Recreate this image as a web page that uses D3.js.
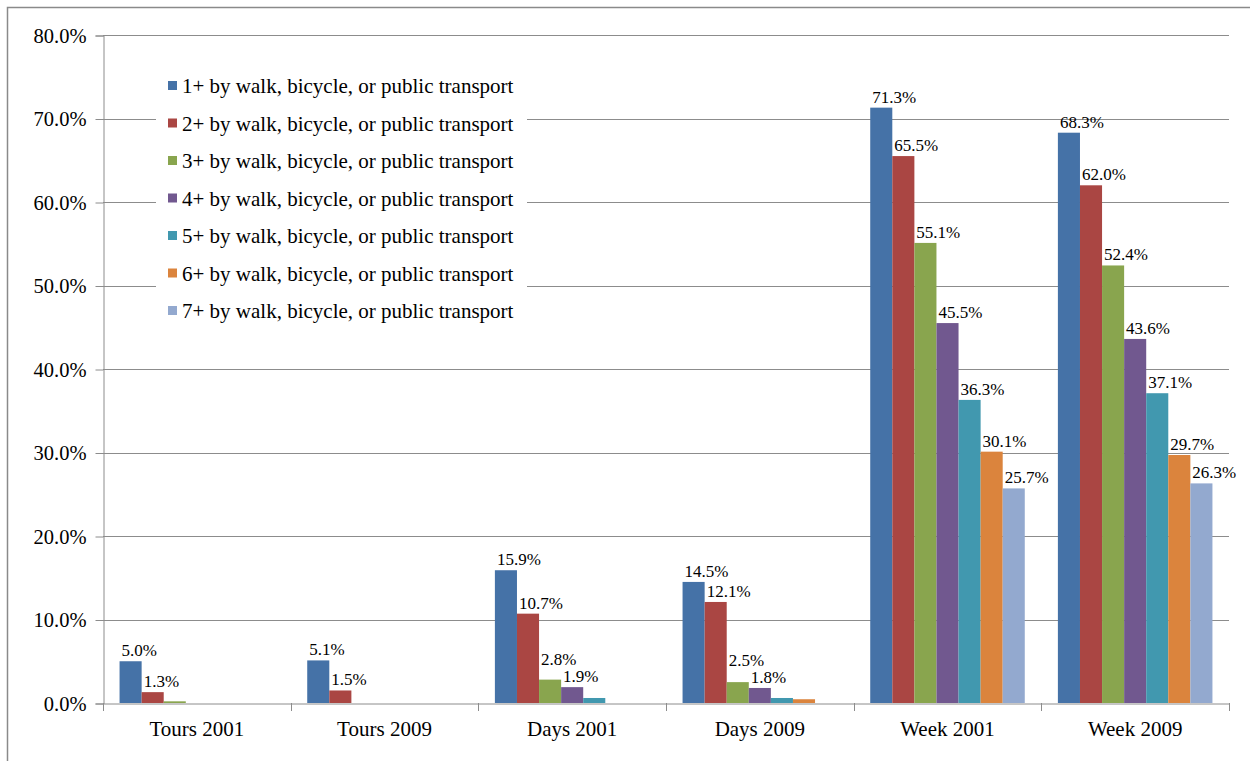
<!DOCTYPE html>
<html>
<head>
<meta charset="utf-8">
<script src="https://cdn.jsdelivr.net/npm/d3@7"></script>
<style>
html,body{margin:0;padding:0;background:#fff;}
svg{display:block;}
text{font-family:"Liberation Serif","Times New Roman",serif;fill:#000;}
</style>
</head>
<body>
<svg id="chart" width="1250" height="761"></svg>
<script>
const categories = ["Tours 2001","Tours 2009","Days 2001","Days 2009","Week 2001","Week 2009"];
const seriesNames = [
  "1+ by walk, bicycle, or public transport",
  "2+ by walk, bicycle, or public transport",
  "3+ by walk, bicycle, or public transport",
  "4+ by walk, bicycle, or public transport",
  "5+ by walk, bicycle, or public transport",
  "6+ by walk, bicycle, or public transport",
  "7+ by walk, bicycle, or public transport"
];
const s1 = [5.0, 5.1, 15.9, 14.5, 71.3, 68.3];
const s2 = [1.3, 1.5, 10.7, 12.1, 65.5, 62.0];
const s3 = [0.2, 0.0, 2.8, 2.5, 55.1, 52.4];
const s4 = [0.0, 0.0, 1.9, 1.8, 45.5, 43.6];
const s5 = [0.0, 0.0, 0.6, 0.6, 36.3, 37.1];
const s6 = [0.0, 0.0, 0.0, 0.45, 30.1, 29.7];
const s7 = [0.0, 0.0, 0.0, 0.0, 25.7, 26.3];
const seriesValues = [s1, s2, s3, s4, s5, s6, s7];
const colors = ["#4572A7","#AA4643","#89A54E","#71588F","#4198AF","#DB843D","#93A9CF"];
const yTicks = [0,10,20,30,40,50,60,70,80];

const svg = d3.select("#chart");
const L = 103, R = 1229, T = 35, B = 703;
const FONT = "Liberation Serif, Times New Roman, serif";

// outer frame
svg.append("rect").attr("x",7.5).attr("y",7.5).attr("width",1260).attr("height",780)
  .attr("fill","none").attr("stroke","#8a8a8a").attr("stroke-width",1.5);

const x0 = d3.scaleBand().domain(categories).range([L,R]).padding(0);
const gw = x0.bandwidth();
const gapRatio = 1.5;
const bw = gw/(seriesNames.length+gapRatio);
const x1 = d3.scaleBand().domain(d3.range(seriesNames.length))
  .range([bw*gapRatio/2, bw*gapRatio/2 + bw*seriesNames.length]).padding(0);
const y = d3.scaleLinear().domain([0,80]).range([B,T]);

// gridlines
svg.append("g").selectAll("line").data(yTicks.filter(d=>d>0)).join("line")
  .attr("x1",L).attr("x2",R).attr("y1",d=>Math.round(y(d))+0.5).attr("y2",d=>Math.round(y(d))+0.5)
  .attr("stroke","#8c8c8c").attr("stroke-width",1);

// y axis
const yAxis = d3.axisLeft(y).tickValues(yTicks).tickFormat(d=>d3.format(".1f")(d)+"%").tickSizeOuter(0).tickSize(8).tickPadding(9);
const gy = svg.append("g").attr("transform",`translate(${L+0.5},0.5)`).call(yAxis);
gy.select(".domain").attr("stroke","#8c8c8c");
gy.selectAll(".tick line").attr("stroke","#8c8c8c");
gy.selectAll(".tick text").attr("font-size","20.5px").attr("font-family",FONT).attr("fill","#000");

// bars
const groups = svg.append("g").selectAll("g").data(categories).join("g")
  .attr("transform",d=>`translate(${x0(d)},0)`);
groups.selectAll("rect").data((c,ci)=>seriesValues.map((s,si)=>({si,v:s[ci]}))).join("rect")
  .attr("x",d=>x1(d.si)).attr("width",x1.bandwidth())
  .attr("y",d=>y(d.v)).attr("height",d=>B-y(d.v))
  .attr("fill",d=>colors[d.si]);

// labels with simple collision avoidance (push left neighbour up)
const LABEL_GAP = 17;
function labelData(ci){
  const arr = seriesValues.map((s,si)=>({si,v:s[ci]})).filter(d=>d.v>=1);
  arr.forEach(d=>{ d.ly = y(d.v)-5; });
  for(let i=arr.length-2;i>=0;i--){
    const next = arr[i+1];
    if(next.si===arr[i].si+1 && arr[i].ly > next.ly - LABEL_GAP){
      arr[i].ly = next.ly - LABEL_GAP;
    }
  }
  return arr;
}
groups.selectAll("text").data((c,ci)=>labelData(ci)).join("text")
  .attr("x",d=>x1(d.si)+2).attr("y",d=>d.ly)
  .attr("font-size","17px").text(d=>d3.format(".1f")(d.v)+"%");

// x axis
const xAxis = d3.axisBottom(x0).tickSize(0).tickPadding(18).tickSizeOuter(0);
const gx = svg.append("g").attr("transform",`translate(0,${B+0.5})`).call(xAxis);
gx.select(".domain").attr("stroke","#8c8c8c");
gx.selectAll(".tick text").attr("font-size","21px").attr("font-family",FONT).attr("fill","#000");
// category boundary ticks
svg.append("g").selectAll("line").data(d3.range(categories.length+1)).join("line")
  .attr("x1",i=>Math.round(L+i*gw)+0.5).attr("x2",i=>Math.round(L+i*gw)+0.5)
  .attr("y1",B).attr("y2",B+8).attr("stroke","#8c8c8c");

// legend
const lg = svg.append("g");
lg.append("rect").attr("x",156).attr("y",55).attr("width",371).attr("height",275).attr("fill","#fff");
const items = lg.selectAll("g").data(seriesNames).join("g")
  .attr("transform",(d,i)=>`translate(168,${86+i*37.5})`);
items.append("rect").attr("x",0).attr("y",-5).attr("width",9).attr("height",9).attr("fill",(d,i)=>colors[i]);
items.append("text").attr("x",14).attr("y",7).attr("font-size","21px").text(d=>d);
</script>
</body>
</html>
